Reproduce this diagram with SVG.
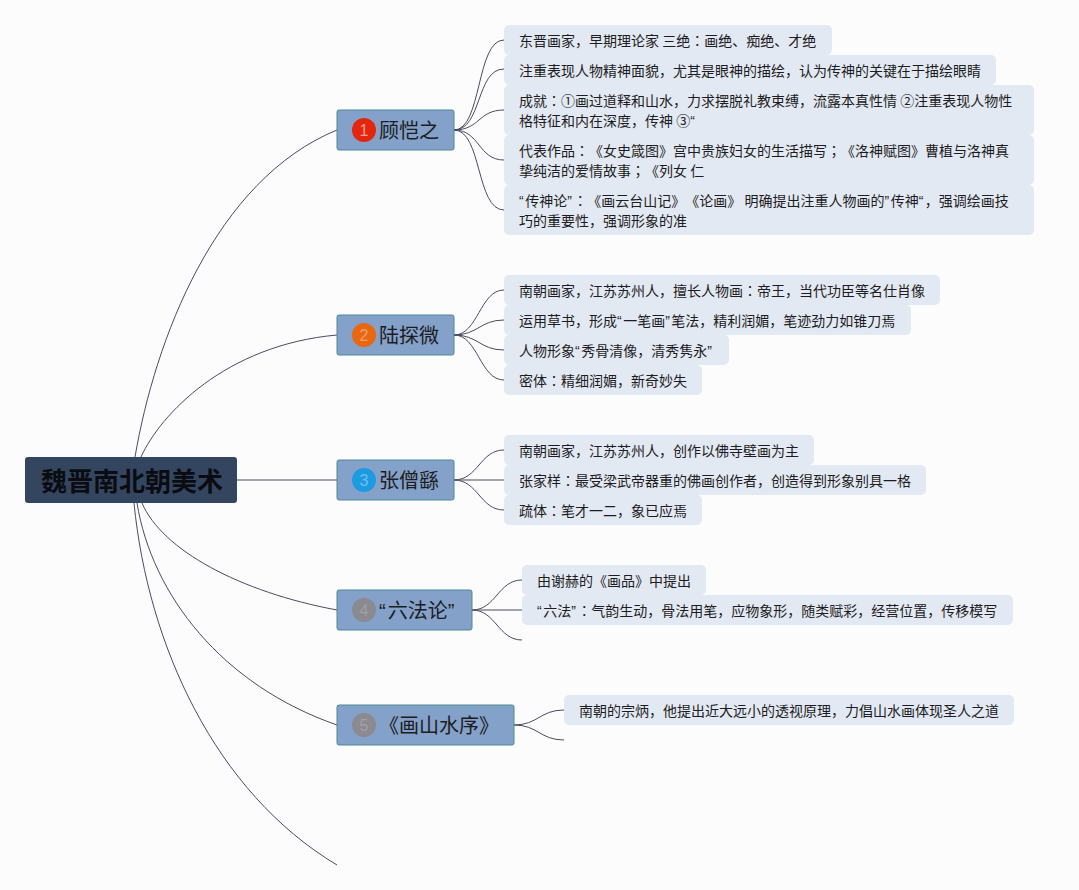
<svg xmlns="http://www.w3.org/2000/svg" width="1079" height="890" viewBox="0 0 1079 890">
<style>
text{font-family:"Noto Sans CJK SC","Liberation Sans",sans-serif;fill:#1c1c22;text-spacing-trim:space-all}
.q{font-family:"Liberation Sans",sans-serif;letter-spacing:1.5px}
.p{font-family:"Noto Sans CJK TC",sans-serif}
.leaf rect{fill:#e3e9f2}
.leaf text{font-size:14px}
.branch rect{fill:#84a1c9;stroke:#4d8a92;stroke-width:1}
.branch text.t{font-size:20px}
.branch text.n{font-size:16px;text-anchor:middle;font-family:"Liberation Sans",sans-serif}
.c{fill:none;stroke:#4b4b60;stroke-width:1}
</style>
<rect width="1079" height="890" fill="#fcfcfd"/>
<g id="connectors" class="conn">
<path class="c" d="M135 457C155 340 215 180 337 130"/>
<path class="c" d="M141 457C160 415 225 345 337 335"/>
<path class="c" d="M237 480H337"/>
<path class="c" d="M142 503C162 550 240 592 337 610"/>
<path class="c" d="M137 503C152 595 222 685 337 725"/>
<path class="c" d="M134 503C148 645 215 792 337 865"/>
<path class="c" d="M454 130C482 130 476 40 504 40"/>
<path class="c" d="M454 130C482 130 476 69 504 69"/>
<path class="c" d="M454 130C480 130 478 110 504 110"/>
<path class="c" d="M454 130C480 130 478 160 504 160"/>
<path class="c" d="M454 130C482 130 476 210 504 210"/>
<path class="c" d="M454 335C478 335 480 290 504 290"/>
<path class="c" d="M454 335C478 335 480 320 504 320"/>
<path class="c" d="M454 335C478 335 480 350 504 350"/>
<path class="c" d="M454 335C478 335 480 380 504 380"/>
<path class="c" d="M454 480C478 480 480 450 504 450"/>
<path class="c" d="M454 480H504"/>
<path class="c" d="M454 480C478 480 480 510 504 510"/>
<path class="c" d="M472 610C496 610 498 580 522 580"/>
<path class="c" d="M472 610H522"/>
<path class="c" d="M472 610C496 610 498 640 522 640"/>
<path class="c" d="M514 725C538 725 540 710 564 710"/>
<path class="c" d="M514 725C538 725 540 740 564 740"/>
</g>
<g id="root"><rect x="25" y="457" width="212" height="46" rx="3" fill="#34465f"/><text x="41" y="491" font-size="26" font-weight="700" style="fill:#0a0c12">魏晋南北朝美术</text></g>
<g id="b1" class="branch"><rect x="337" y="110" width="117" height="40" rx="2"/><circle cx="364" cy="130" r="12" fill="#e5260e"/><text class="n" x="364" y="136" style="fill:#f4a090">1</text><text class="t" x="379" y="138">顾恺之</text></g>
<g id="b2" class="branch"><rect x="337" y="315" width="117" height="40" rx="2"/><circle cx="364" cy="335" r="12" fill="#e8670f"/><text class="n" x="364" y="341" style="fill:#f0a070">2</text><text class="t" x="379" y="343">陆探微</text></g>
<g id="b3" class="branch"><rect x="337" y="460" width="117" height="40" rx="2"/><circle cx="364" cy="480" r="12" fill="#1e9be0"/><text class="n" x="364" y="486" style="fill:#6ec0ee">3</text><text class="t" x="379" y="488">张僧繇</text></g>
<g id="b4" class="branch"><rect x="337" y="590" width="135" height="40" rx="2"/><circle cx="364" cy="610" r="12" fill="#8a8a90"/><text class="n" x="364" y="616" style="fill:#a0a0a6">4</text><text class="t" x="379" y="618"><tspan class="q" style="letter-spacing:2px">“</tspan>六法论<tspan class="q" style="letter-spacing:2px">”</tspan></text></g>
<g id="b5" class="branch"><rect x="337" y="705" width="177" height="40" rx="2"/><circle cx="364" cy="725" r="12" fill="#8a8a90"/><text class="n" x="364" y="731" style="fill:#a0a0a6">5</text><text class="t" x="379" y="733">《画山水序》</text></g>
<g id="l1" class="leaf"><rect x="504" y="25" width="328" height="30" rx="5"/><text x="519" y="46">东晋画家，早期理论家 三绝<tspan class="p">：</tspan>画绝、痴绝、才绝</text></g>
<g id="l2" class="leaf"><rect x="504" y="55" width="492" height="30" rx="5"/><text x="519" y="76">注重表现人物精神面貌，尤其是眼神的描绘，认为传神的关键在于描绘眼睛</text></g>
<g id="l3" class="leaf"><rect x="504" y="85" width="530" height="50" rx="5"/><text x="519" y="106">成就<tspan class="p">：</tspan>①画过道释和山水，力求摆脱礼教束缚，流露本真性情 ②注重表现人物性</text><text x="519" y="126">格特征和内在深度，传神 ③<tspan class="q">“</tspan></text></g>
<g id="l4" class="leaf"><rect x="504" y="135" width="530" height="50" rx="5"/><text x="519" y="156">代表作品<tspan class="p">：</tspan>《女史箴图》宫中贵族妇女的生活描写<tspan class="p">；</tspan>《洛神赋图》曹植与洛神真</text><text x="519" y="176">挚纯洁的爱情故事<tspan class="p">；</tspan>《列女 仁</text></g>
<g id="l5" class="leaf"><rect x="504" y="185" width="530" height="50" rx="5"/><text x="519" y="206"><tspan class="q">“</tspan>传神论<tspan class="q">”</tspan><tspan class="p">：</tspan>《画云台山记》《论画》 明确提出注重人物画的<tspan class="q">”</tspan>传神<tspan class="q">“</tspan>，强调绘画技</text><text x="519" y="226">巧的重要性，强调形象的准</text></g>
<g id="l6" class="leaf"><rect x="504" y="275" width="436" height="30" rx="5"/><text x="519" y="296">南朝画家，江苏苏州人，擅长人物画<tspan class="p">：</tspan>帝王，当代功臣等名仕肖像</text></g>
<g id="l7" class="leaf"><rect x="504" y="305" width="407" height="30" rx="5"/><text x="519" y="326">运用草书，形成<tspan class="q">“</tspan>一笔画<tspan class="q">”</tspan>笔法，精利润媚，笔迹劲力如锥刀焉</text></g>
<g id="l8" class="leaf"><rect x="504" y="335" width="225" height="30" rx="5"/><text x="519" y="356">人物形象<tspan class="q">“</tspan>秀骨清像，清秀隽永<tspan class="q">”</tspan></text></g>
<g id="l9" class="leaf"><rect x="504" y="365" width="198" height="30" rx="5"/><text x="519" y="386">密体<tspan class="p">：</tspan>精细润媚，新奇妙失</text></g>
<g id="l10" class="leaf"><rect x="504" y="435" width="310" height="30" rx="5"/><text x="519" y="456">南朝画家，江苏苏州人，创作以佛寺壁画为主</text></g>
<g id="l11" class="leaf"><rect x="504" y="465" width="422" height="30" rx="5"/><text x="519" y="486">张家样<tspan class="p">：</tspan>最受梁武帝器重的佛画创作者，创造得到形象别具一格</text></g>
<g id="l12" class="leaf"><rect x="504" y="495" width="198" height="30" rx="5"/><text x="519" y="516">疏体<tspan class="p">：</tspan>笔才一二，象已应焉</text></g>
<g id="l13" class="leaf"><rect x="522" y="565" width="184" height="30" rx="5"/><text x="537" y="586">由谢赫的《画品》中提出</text></g>
<g id="l14" class="leaf"><rect x="522" y="595" width="491" height="30" rx="5"/><text x="537" y="616"><tspan class="q">“</tspan>六法<tspan class="q">”</tspan><tspan class="p">：</tspan>气韵生动，骨法用笔，应物象形，随类赋彩，经营位置，传移模写</text></g>
<g id="l15" class="leaf"><rect x="564" y="695" width="450" height="30" rx="5"/><text x="579" y="716">南朝的宗炳，他提出近大远小的透视原理，力倡山水画体现圣人之道</text></g>
</svg>
